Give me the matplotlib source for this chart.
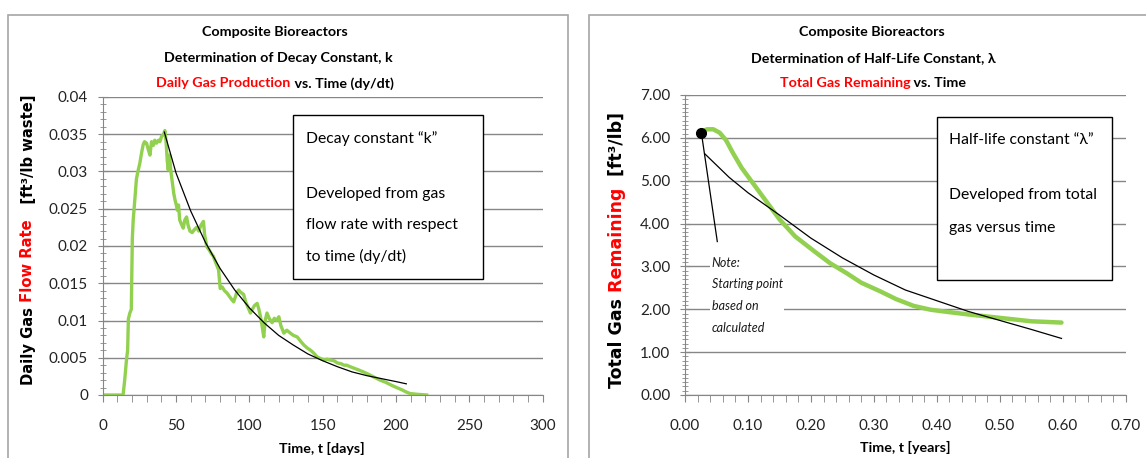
import matplotlib
matplotlib.use("Agg")
import matplotlib.pyplot as plt
from matplotlib.ticker import MultipleLocator, FuncFormatter
from matplotlib.patches import Rectangle

# --- left chart: daily gas production ---
flow_days = [0, 13.9, 15.0, 16.2, 17.0, 17.5, 18.5, 19.5, 20.2, 20.8,
             21.9, 23.0, 24.0, 25.3, 26.5, 27.6, 28.5, 29.9, 31.0, 32.2,
             33.3, 34.5, 35.5, 36.7, 38.0, 39.0, 40.1, 41.5, 42.4, 43.2,
             44.0, 44.7, 45.5, 46.5, 47.5, 48.5, 49.3, 50.2, 50.9, 51.7,
             52.5, 53.5, 54.9, 56.0, 57.2, 58.2, 59.5, 61.0, 62.5, 64.0,
             65.5, 67.0, 68.7, 69.5, 71.0, 72.5, 74.0, 75.5, 77.0, 79.0,
             80.1, 81.5, 83.0, 84.7, 86.5, 88.0, 89.3, 90.5, 91.5, 92.7,
             94.0, 96.1, 97.5, 99.0, 100.7, 102.0, 103.5, 105.3, 106.5, 107.6,
             108.5, 109.8, 110.8, 112.0, 113.5, 115.5, 117.0, 118.5, 120.1, 121.5,
             123.5, 125.5, 128.0, 130.0, 132.6, 135.0, 137.2, 139.5, 141.8, 144.0,
             146.3, 148.5, 150.9, 153.0, 155.0, 157.7, 160.0, 162.5, 164.6, 166.3,
             170.0, 174.0, 177.7, 181.0, 185.0, 189.0, 193.0, 197.0, 200.4, 204.0,
             207.0, 209.5, 214.0, 220.9]
flow_rate = [0, 0, 0.0020, 0.0047, 0.0060, 0.0102, 0.0110, 0.0115, 0.0210, 0.0235,
             0.0262, 0.0290, 0.0300, 0.0311, 0.0325, 0.0336, 0.0340, 0.0338, 0.0330, 0.0322,
             0.0340, 0.0335, 0.0342, 0.0338, 0.0342, 0.0340, 0.0347, 0.0350, 0.0355, 0.0340,
             0.0315, 0.0302, 0.0322, 0.0300, 0.0285, 0.0270, 0.0262, 0.0255, 0.0248, 0.0255,
             0.0235, 0.0230, 0.0224, 0.0235, 0.0239, 0.0228, 0.0220, 0.0218, 0.0222, 0.0225,
             0.0220, 0.0228, 0.0233, 0.0215, 0.0199, 0.0195, 0.0190, 0.0186, 0.0178, 0.0168,
             0.0143, 0.0145, 0.0140, 0.0137, 0.0132, 0.0128, 0.0125, 0.0132, 0.0138, 0.0141,
             0.0138, 0.0135, 0.0125, 0.0118, 0.0110, 0.0115, 0.0120, 0.0123, 0.0115, 0.0105,
             0.0095, 0.0078, 0.0100, 0.0110, 0.0103, 0.0097, 0.0103, 0.0100, 0.0105, 0.0093,
             0.0083, 0.0087, 0.0083, 0.0080, 0.0078, 0.0072, 0.0067, 0.0063, 0.0060, 0.0056,
             0.0051, 0.0049, 0.0047, 0.0048, 0.0047, 0.0046, 0.0043, 0.0042, 0.0040, 0.0040,
             0.0037, 0.0034, 0.0031, 0.0028, 0.0024, 0.0020, 0.0017, 0.0013, 0.0010, 0.0007,
             0.0004, 0.0002, 0.0001, 0.0]

k_fit_days = [42, 50, 60, 70, 80, 90, 100, 110, 120, 130, 140, 150, 160, 170, 180, 190, 200, 207]
k_fit_rate = [0.0353, 0.0298, 0.0247, 0.0205, 0.0170, 0.0141, 0.0117, 0.0097, 0.0080,
              0.0067, 0.0055, 0.0046, 0.0038, 0.0031, 0.0026, 0.0022, 0.0018, 0.0015]

# --- right chart: total gas remaining ---
rem_years = [0.027, 0.035, 0.045, 0.055, 0.065, 0.076, 0.09, 0.108, 0.13, 0.15, 0.175,
             0.203, 0.23, 0.257, 0.28, 0.31, 0.335, 0.363, 0.39, 0.416, 0.45, 0.50, 0.55, 0.598]
rem_gas = [6.15, 6.2, 6.2, 6.12, 5.95, 5.65, 5.3, 4.94, 4.5, 4.1, 3.7,
           3.38, 3.08, 2.84, 2.62, 2.42, 2.24, 2.08, 1.99, 1.94, 1.88, 1.80, 1.72, 1.69]

lam_fit_years = [0.032, 0.07, 0.10, 0.15, 0.20, 0.25, 0.30, 0.35, 0.40, 0.45, 0.50, 0.55, 0.598]
lam_fit_gas = [5.62, 5.08, 4.72, 4.2, 3.66, 3.2, 2.8, 2.45, 2.2, 1.95, 1.74, 1.53, 1.32]

start_year, start_gas = 0.026, 6.12

W, H = 1146, 458
GREEN = "#92D050"
RED = "#FF0000"
GRID = "#868686"
narrow = ["Lato", "DejaVu Sans"]

fig = plt.figure(figsize=(W / 100, H / 100), dpi=100)
fig.patch.set_facecolor("white")


def fx(x):
    return x / W


def fy(y):
    return 1 - y / H


# panel frames
fig.add_artist(Rectangle((fx(8), fy(470)), fx(560), 455 / H, transform=fig.transFigure,
                         fc="none", ec="#A6A6A6", lw=1.2, clip_on=False))
fig.add_artist(Rectangle((fx(589), fy(470)), fx(600), 455 / H, transform=fig.transFigure,
                         fc="none", ec="#A6A6A6", lw=1.2, clip_on=False))

ax1 = fig.add_axes([fx(102.7), fy(395), fx(440), 298 / H])
ax2 = fig.add_axes([fx(685), fy(395), fx(440.7), 300 / H])

for ax in (ax1, ax2):
    ax.set_facecolor("none")
    for s in ("top", "right"):
        ax.spines[s].set_visible(False)
    for s in ("left", "bottom"):
        ax.spines[s].set_color(GRID)
    ax.yaxis.grid(True, color=GRID, lw=1)
    ax.set_axisbelow(True)
    ax.tick_params(axis="y", which="major", direction="inout", length=7, color=GRID,
                   labelcolor="#222222", labelsize=11, pad=7)
    ax.tick_params(axis="y", which="minor", direction="inout", length=5, color=GRID)
    ax.tick_params(axis="x", which="both", direction="out", length=5, color=GRID,
                   labelcolor="#222222", labelsize=11, pad=12)

# left chart
ax1.plot(flow_days, flow_rate, color=GREEN, lw=2.4, solid_joinstyle="round")
ax1.plot(k_fit_days, k_fit_rate, color="black", lw=0.9)
ax1.set_xlim(0, 300)
ax1.set_ylim(0, 0.04)
ax1.xaxis.set_major_locator(MultipleLocator(50))
ax1.xaxis.set_minor_locator(MultipleLocator(10))
ax1.yaxis.set_major_locator(MultipleLocator(0.005))
ax1.yaxis.set_minor_locator(MultipleLocator(0.001))
ax1.yaxis.set_major_formatter(FuncFormatter(lambda v, p: f"{v:.3f}".rstrip("0").rstrip(".") if v else "0"))

# right chart
ax2.plot(rem_years, rem_gas, color=GREEN, lw=3.2, solid_capstyle="round")
ax2.plot(lam_fit_years, lam_fit_gas, color="black", lw=0.9)
ax2.plot([start_year, 0.0513], [start_gas, 3.58], color="black", lw=0.9)
ax2.plot([start_year], [start_gas], "o", color="black", ms=7, zorder=5)
ax2.set_xlim(0, 0.70)
ax2.set_ylim(0, 7)
ax2.xaxis.set_major_locator(MultipleLocator(0.1))
ax2.xaxis.set_minor_locator(MultipleLocator(0.02))
ax2.yaxis.set_major_locator(MultipleLocator(1))
ax2.yaxis.set_minor_locator(MultipleLocator(0.1))
ax2.xaxis.set_major_formatter(FuncFormatter(lambda v, p: f"{v:.2f}"))
ax2.yaxis.set_major_formatter(FuncFormatter(lambda v, p: f"{v:.2f}"))
ax2.text(0.0424, 3.22, "Note:\nStarting point\nbased on\ncalculated", family=narrow,
         style="italic", fontsize=9, color="#1a1a1a", va="top", ha="left", linespacing=1.95,
         bbox=dict(fc="white", ec="none", pad=1))

for lab in ax1.get_xticklabels() + ax1.get_yticklabels() + ax2.get_xticklabels() + ax2.get_yticklabels():
    lab.set_family(narrow)

# note boxes
for x0, y0, x1, y1 in [(293, 115, 483, 279), (937, 117, 1112, 280)]:
    fig.add_artist(Rectangle((fx(x0), fy(y1)), fx(x1 - x0), (y1 - y0) / H,
                             transform=fig.transFigure, fc="white", ec="black", lw=1))
box_lines = [
    (306, [(139, "Decay constant \u201ck\u201d"), (194, "Developed from gas"),
           (225, "flow rate with respect"), (256, "to time (dy/dt)")]),
    (949, [(140, "Half-life constant \u201c\u03bb\u201d"), (195, "Developed from total"),
           (228, "gas versus time")]),
]
for x0, lines in box_lines:
    for y, s in lines:
        fig.text(fx(x0), fy(y), s, family=narrow, fontsize=11.3, va="center", ha="left")

renderer = fig.canvas.get_renderer()


def multicolor(parts, cx, cy, rotation=0, **kw):
    # lay out differently coloured pieces of one line, centred on (cx, cy) in pixels
    objs = [fig.text(0, 0, s, color=c, rotation=rotation, **kw) for s, c in parts]
    sizes = []
    for t in objs:
        bb = t.get_window_extent(renderer)
        sizes.append(bb.height if rotation else bb.width)
    total = sum(sizes)
    pos = 0
    for t, size in zip(objs, sizes):
        if rotation:
            t.set_ha("center")
            t.set_va("bottom")
            t.set_position((fx(cx), fy(cy + total / 2 - pos)))
        else:
            t.set_ha("left")
            t.set_va("center")
            t.set_position((fx(cx - total / 2 + pos), fy(cy)))
        pos += size


tkw = dict(family=narrow, fontsize=10.3, weight="bold")
multicolor([("Composite Bioreactors", "black")], 275, 31.7, **tkw)
multicolor([("Determination of Decay Constant, k", "black")], 278, 58.3, **tkw)
multicolor([("Daily Gas Production", RED), (" vs. Time (dy/dt)", "black")], 275, 83.3, **tkw)
multicolor([("Composite Bioreactors", "black")], 872, 31.7, **tkw)
multicolor([("Determination of Half-Life Constant, \u03bb", "black")], 873, 58.3, **tkw)
multicolor([("Total Gas Remaining", RED), (" vs. Time", "black")], 873, 83.3, **tkw)

multicolor([("Time, t [days]", "black")], 322, 448, **tkw)
multicolor([("Time, t [years]", "black")], 905, 447, **tkw)

multicolor([("Daily Gas", "black"), (" Flow Rate", RED), ("   [ft\u00b3/lb waste]", "black")],
           28, 240, rotation=90, family="DejaVu Sans", weight="bold", fontsize=10.6)
multicolor([("Total Gas", "black"), (" Remaining", RED), ("  [ft\u00b3/lb]", "black")],
           617, 250, rotation=90, family="DejaVu Sans", weight="bold", fontsize=12.5)

fig.savefig("out.png", dpi=100, facecolor="white")
